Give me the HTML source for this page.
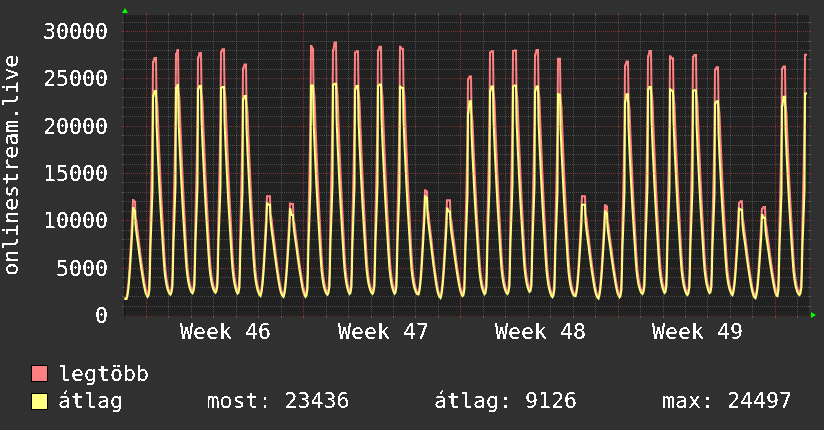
<!DOCTYPE html>
<html><head><meta charset="utf-8"><style>
html,body{margin:0;padding:0;background:#303030;}
svg{display:block;}
text{font-family:"DejaVu Sans Mono","Liberation Mono",monospace;font-size:21.6px;fill:#ffffff;}
</style></head><body>
<svg width="824" height="430" viewBox="0 0 824 430">
<rect x="0" y="0" width="824" height="430" fill="#303030"/>
<rect x="124" y="15" width="685" height="301" fill="#212121"/>
<polyline points="124.0,298.10 124.5,298.10 125.5,298.10 126.5,298.04 127.5,292.11 128.5,282.26 129.5,268.51 130.5,250.86 131.5,231.28 132.5,211.72 133.0,200.00 133.5,200.00 134.5,201.80 135.0,201.80 135.5,217.55 136.5,221.44 137.5,230.39 138.5,238.16 139.5,246.31 140.5,254.64 141.5,262.39 142.5,269.73 143.5,276.48 144.5,282.84 145.5,288.22 146.5,292.23 147.5,294.70 148.5,291.95 149.5,277.50 150.5,220.15 151.5,177.16 152.5,124.69 153.0,62.00 153.5,62.00 154.5,58.00 155.5,58.00 156.0,58.00 156.5,96.02 157.5,107.40 158.5,133.95 159.5,157.63 160.5,180.33 161.5,200.63 162.5,219.49 163.5,238.33 164.5,256.20 165.5,269.80 166.5,278.18 167.5,284.19 168.5,288.30 169.5,291.23 170.5,292.99 171.5,288.76 172.5,274.08 173.5,215.59 174.5,171.72 175.5,118.15 176.0,54.00 176.5,54.00 177.5,50.00 178.0,50.00 178.5,88.91 179.5,100.57 180.5,127.78 181.5,152.06 182.5,175.36 183.5,196.22 184.5,215.60 185.5,234.98 186.5,253.38 187.5,267.40 188.5,276.08 189.5,282.33 190.5,286.63 191.5,289.72 192.5,291.60 193.5,287.50 194.5,273.12 195.5,215.68 196.5,172.61 197.5,119.98 198.0,57.40 198.5,57.40 199.5,53.00 200.5,53.00 201.0,53.00 201.5,91.26 202.5,102.73 203.5,129.50 204.5,153.40 205.5,176.33 206.5,196.88 207.5,215.98 208.5,235.08 209.5,253.22 210.5,267.06 211.5,275.64 212.5,281.83 213.5,286.11 214.5,289.19 215.5,291.10 216.5,287.05 217.5,272.57 218.5,214.36 219.5,170.69 220.5,117.26 221.0,52.00 221.5,52.00 222.5,49.20 223.5,49.20 224.0,49.20 224.5,88.15 225.5,99.85 226.5,127.15 227.5,151.55 228.5,174.99 229.5,196.00 230.5,215.57 231.5,235.16 232.5,253.78 233.5,268.02 234.5,276.89 235.5,283.33 236.5,287.82 237.5,291.08 238.5,289.25 239.5,275.54 240.5,220.52 241.5,179.25 242.5,128.77 243.0,68.20 243.5,68.20 244.5,64.50 245.5,64.50 246.0,64.50 246.5,101.26 247.5,112.30 248.5,138.06 249.5,161.07 250.5,183.17 251.5,202.98 252.5,221.42 253.5,239.87 254.5,257.40 255.5,270.80 256.5,279.14 257.5,285.18 258.5,289.38 259.5,292.42 260.5,294.32 261.5,289.12 262.5,279.28 263.5,265.48 264.5,247.71 265.5,227.95 266.5,208.17 267.0,196.30 267.5,196.30 268.5,196.30 269.5,196.30 270.0,196.30 270.5,214.14 271.5,218.11 272.5,227.25 273.5,235.20 274.5,243.55 275.5,252.11 276.5,260.08 277.5,267.66 278.5,274.65 279.5,281.25 280.5,286.86 281.5,291.07 282.5,293.70 283.5,295.33 284.5,290.42 285.5,281.19 286.5,268.26 287.5,251.60 288.5,233.07 289.5,214.53 290.0,203.40 290.5,203.40 291.5,204.00 292.5,204.00 293.0,204.00 293.5,220.13 294.5,223.85 295.5,232.42 296.5,239.88 297.5,247.71 298.5,255.74 299.5,263.22 300.5,270.33 301.5,276.88 302.5,283.07 303.5,288.33 304.5,292.29 305.5,294.70 306.5,291.62 307.5,276.46 308.5,216.25 309.5,171.12 310.5,116.03 311.0,46.00 311.5,46.00 312.5,48.70 313.0,48.70 313.5,85.96 314.5,97.92 315.5,125.83 316.5,150.72 317.5,174.59 318.5,195.95 319.5,215.78 320.5,235.60 321.5,254.40 322.5,268.71 323.5,277.54 324.5,283.88 325.5,288.22 326.5,291.32 327.5,293.17 328.5,288.88 329.5,273.81 330.5,213.50 331.5,168.27 332.5,112.98 333.0,49.90 333.5,49.90 334.5,42.60 335.5,42.60 336.0,42.60 336.5,82.82 337.5,94.89 338.5,123.05 339.5,148.19 340.5,172.33 341.5,193.96 342.5,214.08 343.5,234.20 344.5,253.32 345.5,267.91 346.5,276.97 347.5,283.51 348.5,288.05 349.5,291.33 350.5,289.22 351.5,274.61 352.5,216.32 353.5,172.61 354.5,119.22 355.0,52.60 355.5,52.60 356.5,51.30 357.5,51.30 358.0,51.30 358.5,90.08 359.5,101.70 360.5,128.82 361.5,153.02 362.5,176.24 363.5,197.03 364.5,216.36 365.5,235.69 366.5,254.03 367.5,268.02 368.5,276.67 369.5,282.91 370.5,287.21 371.5,290.30 372.5,292.18 373.5,288.02 374.5,273.28 375.5,214.21 376.5,169.89 377.5,115.70 378.0,50.50 378.5,50.50 379.5,46.70 380.5,46.70 381.0,46.70 381.5,86.16 382.5,98.00 383.5,125.64 384.5,150.33 385.5,174.04 386.5,195.29 387.5,215.06 388.5,234.85 389.5,253.65 390.5,268.01 391.5,276.94 392.5,283.41 393.5,287.90 394.5,291.16 395.5,288.94 396.5,274.09 397.5,214.75 398.5,170.25 399.5,115.88 400.0,46.70 400.5,46.70 401.5,48.80 402.5,48.80 403.0,48.80 403.5,86.22 404.5,98.06 405.5,125.71 406.5,150.40 407.5,174.08 408.5,195.30 409.5,215.03 410.5,234.75 411.5,253.48 412.5,267.77 413.5,276.63 414.5,283.02 415.5,287.43 416.5,290.61 417.5,292.56 418.5,293.47 419.5,287.44 420.5,277.25 421.5,262.88 422.5,244.30 423.5,223.59 424.5,202.80 425.0,190.30 425.5,190.30 426.5,191.40 427.0,191.40 427.5,209.15 428.5,213.37 429.5,223.07 430.5,231.54 431.5,240.46 432.5,249.61 433.5,258.17 434.5,266.32 435.5,273.87 436.5,281.01 437.5,287.11 438.5,291.74 439.5,294.68 440.5,296.43 441.5,291.21 442.5,281.49 443.5,267.91 444.5,250.47 445.5,231.12 446.5,211.79 447.0,200.20 447.5,200.20 448.5,200.20 449.5,200.20 450.0,200.20 450.5,217.55 451.5,221.39 452.5,230.24 453.5,237.92 454.5,245.98 455.5,254.23 456.5,261.89 457.5,269.16 458.5,275.84 459.5,282.13 460.5,287.46 461.5,291.44 462.5,293.88 463.5,291.52 464.5,278.27 465.5,225.55 466.5,186.03 467.5,137.77 468.0,79.00 468.5,79.00 469.5,76.40 470.5,76.40 471.0,76.40 471.5,111.41 472.5,121.90 473.5,146.37 474.5,168.20 475.5,189.14 476.5,207.88 477.5,225.30 478.5,242.70 479.5,259.21 480.5,271.79 481.5,279.56 482.5,285.15 483.5,288.99 484.5,291.74 485.5,289.22 486.5,274.61 487.5,216.32 488.5,172.62 489.5,119.23 490.0,52.60 490.5,52.60 491.5,51.30 492.5,51.30 493.0,51.30 493.5,90.09 494.5,101.71 495.5,128.84 496.5,153.06 497.5,176.29 498.5,197.10 499.5,216.45 500.5,235.78 501.5,254.15 502.5,268.15 503.5,276.82 504.5,283.06 505.5,287.38 506.5,290.48 507.5,292.37 508.5,288.19 509.5,273.59 510.5,215.36 511.5,171.70 512.5,118.36 513.0,51.00 513.5,51.00 514.5,50.50 515.5,50.50 516.0,50.50 516.5,89.24 517.5,100.86 518.5,127.96 519.5,152.14 520.5,175.35 521.5,196.13 522.5,215.45 523.5,234.76 524.5,253.09 525.5,267.07 526.5,275.73 527.5,281.96 528.5,286.27 529.5,289.36 530.5,287.29 531.5,272.93 532.5,214.87 533.5,171.30 534.5,117.94 535.0,54.70 535.5,54.70 536.5,49.90 537.5,49.90 538.0,49.90 538.5,88.90 539.5,100.63 540.5,128.01 541.5,152.50 542.5,176.05 543.5,197.19 544.5,216.89 545.5,236.62 546.5,255.40 547.5,269.79 548.5,278.80 549.5,285.36 550.5,289.97 551.5,293.35 552.5,295.45 553.5,291.39 554.5,277.10 555.5,220.09 556.5,177.35 557.5,125.13 558.0,58.70 558.5,58.70 559.5,58.70 560.0,58.70 560.5,96.64 561.5,108.01 562.5,134.54 563.5,158.22 564.5,180.94 565.5,201.28 566.5,220.20 567.5,239.11 568.5,257.06 569.5,270.74 570.5,279.22 571.5,285.32 572.5,289.53 573.5,292.56 574.5,294.40 575.5,295.19 576.5,289.36 577.5,279.55 578.5,265.76 579.5,247.95 580.5,228.12 581.5,208.25 582.0,196.30 582.5,196.30 583.5,196.30 584.5,196.30 585.0,196.30 585.5,214.30 586.5,218.32 587.5,227.57 588.5,235.63 589.5,244.11 590.5,252.81 591.5,260.93 592.5,268.66 593.5,275.80 594.5,282.56 595.5,288.31 596.5,292.67 597.5,295.37 598.5,296.97 599.5,292.02 600.5,282.78 601.5,269.86 602.5,253.25 603.5,234.80 604.5,216.36 605.0,205.30 605.5,205.30 606.5,206.40 607.0,206.40 607.5,221.88 608.5,225.56 609.5,234.03 610.5,241.39 611.5,249.11 612.5,257.02 613.5,264.37 614.5,271.35 615.5,277.78 616.5,283.83 617.5,288.96 618.5,292.81 619.5,295.18 620.5,292.33 621.5,278.02 622.5,221.39 623.5,178.95 624.5,127.17 625.0,65.60 625.5,65.60 626.5,61.40 627.5,61.40 628.0,61.40 628.5,98.87 629.5,110.07 630.5,136.22 631.5,159.53 632.5,181.86 633.5,201.83 634.5,220.36 635.5,238.87 636.5,256.42 637.5,269.75 638.5,277.95 639.5,283.82 640.5,287.82 641.5,290.66 642.5,292.40 643.5,288.26 644.5,273.73 645.5,215.63 646.5,172.05 647.5,118.79 648.0,56.20 648.5,56.20 649.5,51.00 650.5,51.00 651.0,51.00 651.5,89.74 652.5,101.36 653.5,128.47 654.5,152.68 655.5,175.92 656.5,196.74 657.5,216.11 658.5,235.48 659.5,253.88 660.5,267.92 661.5,276.64 662.5,282.93 663.5,287.29 664.5,290.44 665.5,288.40 666.5,274.23 667.5,217.38 668.5,174.74 669.5,122.59 670.0,56.20 670.5,56.20 671.5,58.20 672.5,58.20 673.0,58.20 673.5,94.17 674.5,105.57 675.5,132.16 676.5,155.92 677.5,178.74 678.5,199.19 679.5,218.22 680.5,237.26 681.5,255.35 682.5,269.18 683.5,277.78 684.5,284.00 685.5,288.33 686.5,291.46 687.5,293.36 688.5,289.25 689.5,274.88 690.5,217.51 691.5,174.50 692.5,121.95 693.0,56.80 693.5,56.80 694.5,55.10 695.5,55.10 696.0,55.10 696.5,93.27 697.5,104.71 698.5,131.42 699.5,155.25 700.5,178.11 701.5,198.59 702.5,217.63 703.5,236.66 704.5,254.73 705.5,268.51 706.5,277.04 707.5,283.19 708.5,287.43 709.5,290.48 710.5,288.63 711.5,275.11 712.5,220.90 713.5,180.24 714.5,130.51 715.0,69.70 715.5,69.70 716.5,67.20 717.5,67.20 718.0,67.20 718.5,103.41 719.5,114.28 720.5,139.65 721.5,162.30 722.5,184.06 723.5,203.57 724.5,221.72 725.5,239.88 726.5,257.14 727.5,270.33 728.5,278.53 729.5,284.47 730.5,288.59 731.5,291.59 732.5,293.50 733.5,288.74 734.5,279.55 735.5,266.61 736.5,249.88 737.5,231.24 738.5,212.54 739.0,203.00 739.5,203.00 740.5,201.30 741.5,201.30 742.0,201.30 742.5,218.27 743.5,222.07 744.5,230.80 745.5,238.41 746.5,246.43 747.5,254.66 748.5,262.35 749.5,269.67 750.5,276.45 751.5,282.86 752.5,288.33 753.5,292.48 754.5,295.09 755.5,296.62 756.5,291.79 757.5,282.77 758.5,270.14 759.5,253.90 760.5,235.86 761.5,217.82 762.0,208.70 762.5,208.70 763.5,207.00 764.5,207.00 765.0,207.00 765.5,223.24 766.5,226.84 767.5,235.14 768.5,242.36 769.5,249.94 770.5,257.69 771.5,264.91 772.5,271.76 773.5,278.08 774.5,284.03 775.5,289.08 776.5,292.87 777.5,292.50 778.5,278.54 779.5,223.16 780.5,181.65 781.5,130.99 782.0,68.70 782.5,68.70 783.5,66.60 784.5,66.60 785.0,66.60 785.5,103.30 786.5,114.29 787.5,139.92 788.5,162.78 789.5,184.69 790.5,204.29 791.5,222.49 792.5,240.67 793.5,257.92 794.5,271.03 795.5,279.12 796.5,284.92 797.5,288.88 798.5,291.71 799.5,293.42 800.5,289.32 801.5,274.97 802.5,217.51 803.5,174.42 804.5,121.74 805.0,54.70 805.5,54.70 806.5,54.70 807.0,54.70" fill="none" stroke="#ff8080" stroke-width="2" stroke-linejoin="miter"/>
<polyline points="124.0,299.10 124.5,299.10 125.5,299.10 126.5,299.04 127.5,295.35 128.5,288.03 129.5,276.18 130.5,260.71 131.5,244.36 132.5,226.22 133.0,208.10 133.5,208.10 134.5,211.00 135.0,211.00 135.5,224.38 136.5,233.40 137.5,240.61 138.5,247.81 139.5,255.90 140.5,263.08 141.5,270.25 142.5,276.51 143.5,282.77 144.5,288.11 145.5,292.55 146.5,295.19 147.5,296.93 148.5,295.66 149.5,289.32 150.5,245.84 151.5,218.91 152.5,189.96 153.0,96.00 153.5,96.00 154.5,91.00 155.5,91.00 156.0,91.00 156.5,123.90 157.5,148.54 158.5,169.03 159.5,189.50 160.5,207.89 161.5,224.21 162.5,240.50 163.5,256.77 164.5,270.98 165.5,279.03 166.5,285.03 167.5,288.98 168.5,291.91 169.5,293.81 170.5,294.70 171.5,292.54 172.5,286.18 173.5,242.11 174.5,214.82 175.5,185.45 176.0,88.10 176.5,88.10 177.5,84.90 178.0,84.90 178.5,118.39 179.5,143.49 180.5,164.39 181.5,185.27 182.5,204.06 183.5,220.74 184.5,237.41 185.5,254.08 186.5,268.64 187.5,276.94 188.5,283.14 189.5,287.25 190.5,290.32 191.5,292.34 192.5,293.32 193.5,291.21 194.5,284.97 195.5,241.43 196.5,214.48 197.5,185.45 198.0,89.00 198.5,89.00 199.5,86.00 200.5,86.00 201.0,86.00 201.5,119.14 202.5,143.98 203.5,164.68 204.5,185.38 205.5,204.00 206.5,220.55 207.5,237.09 208.5,253.63 209.5,268.10 210.5,276.36 211.5,282.54 212.5,286.66 213.5,289.74 214.5,291.78 215.5,292.81 216.5,290.84 217.5,284.75 218.5,241.54 219.5,214.79 220.5,185.95 221.0,88.00 221.5,88.00 222.5,86.90 223.5,86.90 224.0,86.90 224.5,119.97 225.5,144.81 226.5,165.52 227.5,186.25 228.5,204.93 229.5,221.55 230.5,238.19 231.5,254.84 232.5,269.44 233.5,277.82 234.5,284.13 235.5,288.36 236.5,291.57 237.5,293.73 238.5,292.85 239.5,286.94 240.5,245.23 241.5,219.42 242.5,191.60 243.0,99.60 243.5,99.60 244.5,96.10 245.5,96.10 246.0,96.10 246.5,127.97 247.5,151.88 248.5,171.82 249.5,191.78 250.5,209.75 251.5,225.73 252.5,241.72 253.5,257.73 254.5,271.74 255.5,279.77 256.5,285.81 257.5,289.86 258.5,292.91 259.5,294.96 260.5,296.01 261.5,292.34 262.5,284.95 263.5,272.92 264.5,257.16 265.5,240.46 266.5,221.89 267.0,203.30 267.5,203.30 268.5,204.70 269.5,204.70 270.0,204.70 270.5,220.06 271.5,229.38 272.5,236.85 273.5,244.32 274.5,252.73 275.5,260.22 276.5,267.71 277.5,274.28 278.5,280.85 279.5,286.49 280.5,291.20 281.5,294.04 282.5,295.96 283.5,296.93 284.5,293.46 285.5,286.49 286.5,275.11 287.5,260.22 288.5,244.43 289.5,226.87 290.0,209.30 290.5,209.30 291.5,214.90 292.5,214.90 293.0,214.90 293.5,225.15 294.5,233.96 295.5,241.02 296.5,248.09 297.5,256.04 298.5,263.12 299.5,270.21 300.5,276.42 301.5,282.63 302.5,287.97 303.5,292.43 304.5,295.12 305.5,296.87 306.5,295.51 307.5,289.02 308.5,244.38 309.5,216.74 310.5,187.02 311.0,85.40 311.5,85.40 312.5,85.40 313.0,85.40 313.5,119.21 314.5,144.54 315.5,165.61 316.5,186.65 317.5,205.56 318.5,222.34 319.5,239.10 320.5,255.84 321.5,270.46 322.5,278.75 323.5,284.93 324.5,289.01 325.5,292.03 326.5,294.00 327.5,294.92 328.5,292.80 329.5,286.47 330.5,242.14 331.5,214.70 332.5,185.15 333.0,85.00 333.5,85.00 334.5,83.80 335.5,83.80 336.0,83.80 336.5,117.59 337.5,142.93 338.5,164.05 339.5,185.18 340.5,204.19 341.5,221.10 342.5,238.00 343.5,254.91 344.5,269.70 345.5,278.16 346.5,284.50 347.5,288.74 348.5,291.92 349.5,294.04 350.5,292.99 351.5,286.66 352.5,242.73 353.5,215.53 354.5,186.26 355.0,89.60 355.5,89.60 356.5,86.00 357.5,86.00 358.0,86.00 358.5,119.38 359.5,144.41 360.5,165.25 361.5,186.08 362.5,204.81 363.5,221.45 364.5,238.08 365.5,254.70 366.5,269.24 367.5,277.52 368.5,283.71 369.5,287.82 370.5,290.89 371.5,292.92 372.5,293.90 373.5,291.85 374.5,285.60 375.5,241.62 376.5,214.40 377.5,185.07 378.0,86.00 378.5,86.00 379.5,84.40 380.5,84.40 381.0,84.40 381.5,117.98 382.5,143.18 383.5,164.20 384.5,185.22 385.5,204.14 386.5,220.98 387.5,237.82 388.5,254.67 389.5,269.42 390.5,277.87 391.5,284.23 392.5,288.48 393.5,291.68 394.5,293.82 395.5,292.80 396.5,286.53 397.5,242.75 398.5,215.65 399.5,186.47 400.0,86.50 400.5,86.50 401.5,88.00 402.5,88.00 403.0,88.00 403.5,119.81 404.5,144.78 405.5,165.59 406.5,186.38 407.5,205.10 408.5,221.73 409.5,238.35 410.5,254.97 411.5,269.50 412.5,277.80 413.5,284.01 414.5,288.14 415.5,291.24 416.5,293.29 417.5,294.30 418.5,294.47 419.5,290.71 420.5,282.99 421.5,270.31 422.5,253.63 423.5,235.91 424.5,216.14 425.0,196.30 425.5,196.30 426.5,198.00 427.0,198.00 427.5,214.25 428.5,224.26 429.5,232.31 430.5,240.39 431.5,249.50 432.5,257.63 433.5,265.79 434.5,272.97 435.5,280.17 436.5,286.38 437.5,291.60 438.5,294.81 439.5,297.01 440.5,298.07 441.5,294.45 442.5,287.25 443.5,275.59 444.5,260.38 445.5,244.29 446.5,226.44 447.0,208.60 447.5,208.60 448.5,211.40 449.5,211.40 450.0,211.40 450.5,224.62 451.5,233.50 452.5,240.60 453.5,247.69 454.5,255.66 455.5,262.73 456.5,269.80 457.5,275.97 458.5,282.13 459.5,287.40 460.5,291.78 461.5,294.39 462.5,296.11 463.5,294.95 464.5,289.00 465.5,247.85 466.5,222.38 467.5,194.98 468.0,112.40 468.5,112.40 469.5,101.20 470.5,101.20 471.0,101.20 471.5,132.40 472.5,155.78 473.5,175.25 474.5,194.69 475.5,212.17 476.5,227.69 477.5,243.20 478.5,258.69 479.5,272.23 480.5,279.93 481.5,285.68 482.5,289.48 483.5,292.30 484.5,294.16 485.5,292.99 486.5,286.69 487.5,242.86 488.5,215.73 489.5,186.53 490.0,90.70 490.5,90.70 491.5,86.50 492.5,86.50 493.0,86.50 493.5,119.81 494.5,144.79 495.5,165.59 496.5,186.38 497.5,205.08 498.5,221.70 499.5,238.30 500.5,254.90 501.5,269.42 502.5,277.69 503.5,283.88 504.5,287.99 505.5,291.07 506.5,293.10 507.5,294.09 508.5,291.96 509.5,285.65 510.5,241.81 511.5,214.67 512.5,185.45 513.0,86.50 513.5,86.50 514.5,85.40 515.5,85.40 516.0,85.40 516.5,118.72 517.5,143.70 518.5,164.50 519.5,185.29 520.5,203.99 521.5,220.60 522.5,237.21 523.5,253.81 524.5,268.32 525.5,276.58 526.5,282.77 527.5,286.88 528.5,289.95 529.5,291.98 530.5,291.07 531.5,285.05 532.5,241.76 533.5,214.96 534.5,186.04 535.0,90.70 535.5,90.70 536.5,86.50 537.5,86.50 538.0,86.50 538.5,119.80 539.5,144.83 540.5,165.73 541.5,186.67 542.5,205.56 543.5,222.39 544.5,239.25 545.5,256.15 546.5,270.97 547.5,279.53 548.5,286.00 549.5,290.38 550.5,293.72 551.5,296.01 552.5,297.19 553.5,295.11 554.5,288.96 555.5,246.26 556.5,219.82 557.5,191.36 558.0,93.90 558.5,93.90 559.5,95.00 560.0,95.00 560.5,126.36 561.5,150.70 562.5,170.96 563.5,191.22 564.5,209.44 565.5,225.62 566.5,241.80 567.5,257.97 568.5,272.10 569.5,280.16 570.5,286.19 571.5,290.19 572.5,293.17 573.5,295.15 574.5,296.11 575.5,296.19 576.5,292.64 577.5,285.41 578.5,273.57 579.5,258.02 580.5,241.52 581.5,223.13 582.0,204.70 582.5,204.70 583.5,204.70 584.5,204.70 585.0,204.70 585.5,221.37 586.5,230.66 587.5,238.12 588.5,245.59 589.5,254.02 590.5,261.53 591.5,269.06 592.5,275.67 593.5,282.30 594.5,288.01 595.5,292.79 596.5,295.71 597.5,297.66 598.5,298.58 599.5,295.07 600.5,288.07 601.5,276.72 602.5,261.88 603.5,246.17 604.5,228.73 605.0,211.30 605.5,211.30 606.5,213.70 607.0,213.70 607.5,226.98 608.5,235.69 609.5,242.65 610.5,249.61 611.5,257.43 612.5,264.39 613.5,271.34 614.5,277.41 615.5,283.49 616.5,288.69 617.5,293.02 618.5,295.61 619.5,297.33 620.5,296.00 621.5,289.71 622.5,246.81 623.5,220.24 624.5,191.69 625.0,101.50 625.5,101.50 626.5,94.20 627.5,94.20 628.0,94.20 628.5,126.58 629.5,150.82 630.5,170.97 631.5,191.08 632.5,209.14 633.5,225.15 634.5,241.14 635.5,257.09 636.5,271.01 637.5,278.88 638.5,284.73 639.5,288.56 640.5,291.39 641.5,293.21 642.5,294.10 643.5,292.03 644.5,285.81 645.5,242.30 646.5,215.36 647.5,186.36 648.0,89.60 648.5,89.60 649.5,86.90 650.5,86.90 651.0,86.90 651.5,120.05 652.5,144.92 653.5,165.64 654.5,186.36 655.5,205.00 656.5,221.58 657.5,238.16 658.5,254.73 659.5,269.24 660.5,277.52 661.5,283.74 662.5,287.88 663.5,290.99 664.5,293.06 665.5,292.09 666.5,285.99 667.5,242.97 668.5,216.35 669.5,187.66 670.0,89.20 670.5,89.20 671.5,90.70 672.5,90.70 673.0,90.70 673.5,122.05 674.5,146.70 675.5,167.25 676.5,187.81 677.5,206.32 678.5,222.79 679.5,239.26 680.5,255.74 681.5,270.18 682.5,278.44 683.5,284.66 684.5,288.82 685.5,291.95 686.5,294.05 687.5,295.08 688.5,292.99 689.5,286.80 690.5,243.78 691.5,217.15 692.5,188.49 693.0,90.70 693.5,90.70 694.5,90.30 695.5,90.30 696.0,90.30 696.5,123.00 697.5,147.51 698.5,167.93 699.5,188.34 700.5,206.69 701.5,223.00 702.5,239.30 703.5,255.59 704.5,269.84 705.5,277.96 706.5,284.04 707.5,288.07 708.5,291.09 709.5,293.08 710.5,292.22 711.5,286.48 712.5,246.00 713.5,220.95 714.5,193.95 715.0,103.40 715.5,103.40 716.5,101.30 717.5,101.30 718.0,101.30 718.5,132.21 719.5,155.41 720.5,174.75 721.5,194.10 722.5,211.53 723.5,227.03 724.5,242.53 725.5,258.05 726.5,271.63 727.5,279.41 728.5,285.27 729.5,289.18 730.5,292.13 731.5,294.11 732.5,295.18 733.5,291.85 734.5,285.03 735.5,273.85 736.5,259.14 737.5,243.51 738.5,226.08 739.0,208.60 739.5,208.60 740.5,209.70 741.5,209.70 742.0,209.70 742.5,224.43 743.5,233.27 744.5,240.37 745.5,247.48 746.5,255.51 747.5,262.68 748.5,269.86 749.5,276.18 750.5,282.52 751.5,287.99 752.5,292.58 753.5,295.39 754.5,297.30 755.5,298.20 756.5,294.87 757.5,288.22 758.5,277.40 759.5,263.26 760.5,248.28 761.5,231.64 762.0,215.00 762.5,215.00 763.5,217.80 764.5,217.80 765.0,217.80 765.5,229.98 766.5,238.30 767.5,244.95 768.5,251.61 769.5,259.10 770.5,265.75 771.5,272.41 772.5,278.23 773.5,284.06 774.5,289.05 775.5,293.21 776.5,295.70 777.5,296.09 778.5,289.92 779.5,247.55 780.5,221.32 781.5,193.11 782.0,105.80 782.5,105.80 783.5,96.70 784.5,96.70 785.0,96.70 785.5,128.75 786.5,152.75 787.5,172.71 788.5,192.65 789.5,210.56 790.5,226.45 791.5,242.32 792.5,258.16 793.5,272.00 794.5,279.84 795.5,285.68 796.5,289.52 797.5,292.37 798.5,294.22 799.5,295.10 800.5,293.10 801.5,287.06 802.5,244.75 803.5,218.55 804.5,190.34 805.0,93.60 805.5,93.60 806.5,93.60 807.0,93.60" fill="none" stroke="#ffff80" stroke-width="2" stroke-linejoin="miter"/>
<g shape-rendering="crispEdges">
<line x1="124" y1="306.5" x2="809" y2="306.5" stroke="rgba(255,255,255,0.2)" stroke-width="1" stroke-dasharray="1 1"/><line x1="122" y1="306.5" x2="124" y2="306.5" stroke="rgba(255,255,255,0.2)" stroke-width="1"/><line x1="809" y1="306.5" x2="811" y2="306.5" stroke="rgba(255,255,255,0.2)" stroke-width="1"/><line x1="124" y1="296.5" x2="809" y2="296.5" stroke="rgba(255,255,255,0.2)" stroke-width="1" stroke-dasharray="1 1"/><line x1="122" y1="296.5" x2="124" y2="296.5" stroke="rgba(255,255,255,0.2)" stroke-width="1"/><line x1="809" y1="296.5" x2="811" y2="296.5" stroke="rgba(255,255,255,0.2)" stroke-width="1"/><line x1="124" y1="287.5" x2="809" y2="287.5" stroke="rgba(255,255,255,0.2)" stroke-width="1" stroke-dasharray="1 1"/><line x1="122" y1="287.5" x2="124" y2="287.5" stroke="rgba(255,255,255,0.2)" stroke-width="1"/><line x1="809" y1="287.5" x2="811" y2="287.5" stroke="rgba(255,255,255,0.2)" stroke-width="1"/><line x1="124" y1="277.5" x2="809" y2="277.5" stroke="rgba(255,255,255,0.2)" stroke-width="1" stroke-dasharray="1 1"/><line x1="122" y1="277.5" x2="124" y2="277.5" stroke="rgba(255,255,255,0.2)" stroke-width="1"/><line x1="809" y1="277.5" x2="811" y2="277.5" stroke="rgba(255,255,255,0.2)" stroke-width="1"/><line x1="124" y1="258.5" x2="809" y2="258.5" stroke="rgba(255,255,255,0.2)" stroke-width="1" stroke-dasharray="1 1"/><line x1="122" y1="258.5" x2="124" y2="258.5" stroke="rgba(255,255,255,0.2)" stroke-width="1"/><line x1="809" y1="258.5" x2="811" y2="258.5" stroke="rgba(255,255,255,0.2)" stroke-width="1"/><line x1="124" y1="249.5" x2="809" y2="249.5" stroke="rgba(255,255,255,0.2)" stroke-width="1" stroke-dasharray="1 1"/><line x1="122" y1="249.5" x2="124" y2="249.5" stroke="rgba(255,255,255,0.2)" stroke-width="1"/><line x1="809" y1="249.5" x2="811" y2="249.5" stroke="rgba(255,255,255,0.2)" stroke-width="1"/><line x1="124" y1="239.5" x2="809" y2="239.5" stroke="rgba(255,255,255,0.2)" stroke-width="1" stroke-dasharray="1 1"/><line x1="122" y1="239.5" x2="124" y2="239.5" stroke="rgba(255,255,255,0.2)" stroke-width="1"/><line x1="809" y1="239.5" x2="811" y2="239.5" stroke="rgba(255,255,255,0.2)" stroke-width="1"/><line x1="124" y1="230.5" x2="809" y2="230.5" stroke="rgba(255,255,255,0.2)" stroke-width="1" stroke-dasharray="1 1"/><line x1="122" y1="230.5" x2="124" y2="230.5" stroke="rgba(255,255,255,0.2)" stroke-width="1"/><line x1="809" y1="230.5" x2="811" y2="230.5" stroke="rgba(255,255,255,0.2)" stroke-width="1"/><line x1="124" y1="211.5" x2="809" y2="211.5" stroke="rgba(255,255,255,0.2)" stroke-width="1" stroke-dasharray="1 1"/><line x1="122" y1="211.5" x2="124" y2="211.5" stroke="rgba(255,255,255,0.2)" stroke-width="1"/><line x1="809" y1="211.5" x2="811" y2="211.5" stroke="rgba(255,255,255,0.2)" stroke-width="1"/><line x1="124" y1="201.5" x2="809" y2="201.5" stroke="rgba(255,255,255,0.2)" stroke-width="1" stroke-dasharray="1 1"/><line x1="122" y1="201.5" x2="124" y2="201.5" stroke="rgba(255,255,255,0.2)" stroke-width="1"/><line x1="809" y1="201.5" x2="811" y2="201.5" stroke="rgba(255,255,255,0.2)" stroke-width="1"/><line x1="124" y1="192.5" x2="809" y2="192.5" stroke="rgba(255,255,255,0.2)" stroke-width="1" stroke-dasharray="1 1"/><line x1="122" y1="192.5" x2="124" y2="192.5" stroke="rgba(255,255,255,0.2)" stroke-width="1"/><line x1="809" y1="192.5" x2="811" y2="192.5" stroke="rgba(255,255,255,0.2)" stroke-width="1"/><line x1="124" y1="182.5" x2="809" y2="182.5" stroke="rgba(255,255,255,0.2)" stroke-width="1" stroke-dasharray="1 1"/><line x1="122" y1="182.5" x2="124" y2="182.5" stroke="rgba(255,255,255,0.2)" stroke-width="1"/><line x1="809" y1="182.5" x2="811" y2="182.5" stroke="rgba(255,255,255,0.2)" stroke-width="1"/><line x1="124" y1="164.5" x2="809" y2="164.5" stroke="rgba(255,255,255,0.2)" stroke-width="1" stroke-dasharray="1 1"/><line x1="122" y1="164.5" x2="124" y2="164.5" stroke="rgba(255,255,255,0.2)" stroke-width="1"/><line x1="809" y1="164.5" x2="811" y2="164.5" stroke="rgba(255,255,255,0.2)" stroke-width="1"/><line x1="124" y1="154.5" x2="809" y2="154.5" stroke="rgba(255,255,255,0.2)" stroke-width="1" stroke-dasharray="1 1"/><line x1="122" y1="154.5" x2="124" y2="154.5" stroke="rgba(255,255,255,0.2)" stroke-width="1"/><line x1="809" y1="154.5" x2="811" y2="154.5" stroke="rgba(255,255,255,0.2)" stroke-width="1"/><line x1="124" y1="145.5" x2="809" y2="145.5" stroke="rgba(255,255,255,0.2)" stroke-width="1" stroke-dasharray="1 1"/><line x1="122" y1="145.5" x2="124" y2="145.5" stroke="rgba(255,255,255,0.2)" stroke-width="1"/><line x1="809" y1="145.5" x2="811" y2="145.5" stroke="rgba(255,255,255,0.2)" stroke-width="1"/><line x1="124" y1="135.5" x2="809" y2="135.5" stroke="rgba(255,255,255,0.2)" stroke-width="1" stroke-dasharray="1 1"/><line x1="122" y1="135.5" x2="124" y2="135.5" stroke="rgba(255,255,255,0.2)" stroke-width="1"/><line x1="809" y1="135.5" x2="811" y2="135.5" stroke="rgba(255,255,255,0.2)" stroke-width="1"/><line x1="124" y1="116.5" x2="809" y2="116.5" stroke="rgba(255,255,255,0.2)" stroke-width="1" stroke-dasharray="1 1"/><line x1="122" y1="116.5" x2="124" y2="116.5" stroke="rgba(255,255,255,0.2)" stroke-width="1"/><line x1="809" y1="116.5" x2="811" y2="116.5" stroke="rgba(255,255,255,0.2)" stroke-width="1"/><line x1="124" y1="107.5" x2="809" y2="107.5" stroke="rgba(255,255,255,0.2)" stroke-width="1" stroke-dasharray="1 1"/><line x1="122" y1="107.5" x2="124" y2="107.5" stroke="rgba(255,255,255,0.2)" stroke-width="1"/><line x1="809" y1="107.5" x2="811" y2="107.5" stroke="rgba(255,255,255,0.2)" stroke-width="1"/><line x1="124" y1="97.5" x2="809" y2="97.5" stroke="rgba(255,255,255,0.2)" stroke-width="1" stroke-dasharray="1 1"/><line x1="122" y1="97.5" x2="124" y2="97.5" stroke="rgba(255,255,255,0.2)" stroke-width="1"/><line x1="809" y1="97.5" x2="811" y2="97.5" stroke="rgba(255,255,255,0.2)" stroke-width="1"/><line x1="124" y1="88.5" x2="809" y2="88.5" stroke="rgba(255,255,255,0.2)" stroke-width="1" stroke-dasharray="1 1"/><line x1="122" y1="88.5" x2="124" y2="88.5" stroke="rgba(255,255,255,0.2)" stroke-width="1"/><line x1="809" y1="88.5" x2="811" y2="88.5" stroke="rgba(255,255,255,0.2)" stroke-width="1"/><line x1="124" y1="69.5" x2="809" y2="69.5" stroke="rgba(255,255,255,0.2)" stroke-width="1" stroke-dasharray="1 1"/><line x1="122" y1="69.5" x2="124" y2="69.5" stroke="rgba(255,255,255,0.2)" stroke-width="1"/><line x1="809" y1="69.5" x2="811" y2="69.5" stroke="rgba(255,255,255,0.2)" stroke-width="1"/><line x1="124" y1="59.5" x2="809" y2="59.5" stroke="rgba(255,255,255,0.2)" stroke-width="1" stroke-dasharray="1 1"/><line x1="122" y1="59.5" x2="124" y2="59.5" stroke="rgba(255,255,255,0.2)" stroke-width="1"/><line x1="809" y1="59.5" x2="811" y2="59.5" stroke="rgba(255,255,255,0.2)" stroke-width="1"/><line x1="124" y1="50.5" x2="809" y2="50.5" stroke="rgba(255,255,255,0.2)" stroke-width="1" stroke-dasharray="1 1"/><line x1="122" y1="50.5" x2="124" y2="50.5" stroke="rgba(255,255,255,0.2)" stroke-width="1"/><line x1="809" y1="50.5" x2="811" y2="50.5" stroke="rgba(255,255,255,0.2)" stroke-width="1"/><line x1="124" y1="41.5" x2="809" y2="41.5" stroke="rgba(255,255,255,0.2)" stroke-width="1" stroke-dasharray="1 1"/><line x1="122" y1="41.5" x2="124" y2="41.5" stroke="rgba(255,255,255,0.2)" stroke-width="1"/><line x1="809" y1="41.5" x2="811" y2="41.5" stroke="rgba(255,255,255,0.2)" stroke-width="1"/><line x1="124" y1="22.5" x2="809" y2="22.5" stroke="rgba(255,255,255,0.2)" stroke-width="1" stroke-dasharray="1 1"/><line x1="122" y1="22.5" x2="124" y2="22.5" stroke="rgba(255,255,255,0.2)" stroke-width="1"/><line x1="809" y1="22.5" x2="811" y2="22.5" stroke="rgba(255,255,255,0.2)" stroke-width="1"/><line x1="125" y1="315.5" x2="809" y2="315.5" stroke="rgba(255,80,80,0.42)" stroke-width="1" stroke-dasharray="1 1"/><line x1="122" y1="315.5" x2="124" y2="315.5" stroke="rgba(255,80,80,0.42)" stroke-width="1"/><line x1="809" y1="315.5" x2="811" y2="315.5" stroke="rgba(255,80,80,0.42)" stroke-width="1"/><line x1="125" y1="268.5" x2="809" y2="268.5" stroke="rgba(255,80,80,0.42)" stroke-width="1" stroke-dasharray="1 1"/><line x1="122" y1="268.5" x2="124" y2="268.5" stroke="rgba(255,80,80,0.42)" stroke-width="1"/><line x1="809" y1="268.5" x2="811" y2="268.5" stroke="rgba(255,80,80,0.42)" stroke-width="1"/><line x1="125" y1="220.5" x2="809" y2="220.5" stroke="rgba(255,80,80,0.42)" stroke-width="1" stroke-dasharray="1 1"/><line x1="122" y1="220.5" x2="124" y2="220.5" stroke="rgba(255,80,80,0.42)" stroke-width="1"/><line x1="809" y1="220.5" x2="811" y2="220.5" stroke="rgba(255,80,80,0.42)" stroke-width="1"/><line x1="125" y1="173.5" x2="809" y2="173.5" stroke="rgba(255,80,80,0.42)" stroke-width="1" stroke-dasharray="1 1"/><line x1="122" y1="173.5" x2="124" y2="173.5" stroke="rgba(255,80,80,0.42)" stroke-width="1"/><line x1="809" y1="173.5" x2="811" y2="173.5" stroke="rgba(255,80,80,0.42)" stroke-width="1"/><line x1="125" y1="126.5" x2="809" y2="126.5" stroke="rgba(255,80,80,0.42)" stroke-width="1" stroke-dasharray="1 1"/><line x1="122" y1="126.5" x2="124" y2="126.5" stroke="rgba(255,80,80,0.42)" stroke-width="1"/><line x1="809" y1="126.5" x2="811" y2="126.5" stroke="rgba(255,80,80,0.42)" stroke-width="1"/><line x1="125" y1="78.5" x2="809" y2="78.5" stroke="rgba(255,80,80,0.42)" stroke-width="1" stroke-dasharray="1 1"/><line x1="122" y1="78.5" x2="124" y2="78.5" stroke="rgba(255,80,80,0.42)" stroke-width="1"/><line x1="809" y1="78.5" x2="811" y2="78.5" stroke="rgba(255,80,80,0.42)" stroke-width="1"/><line x1="125" y1="31.5" x2="809" y2="31.5" stroke="rgba(255,80,80,0.42)" stroke-width="1" stroke-dasharray="1 1"/><line x1="122" y1="31.5" x2="124" y2="31.5" stroke="rgba(255,80,80,0.42)" stroke-width="1"/><line x1="809" y1="31.5" x2="811" y2="31.5" stroke="rgba(255,80,80,0.42)" stroke-width="1"/><line x1="146.5" y1="15" x2="146.5" y2="316" stroke="rgba(255,80,80,0.42)" stroke-width="1" stroke-dasharray="1 1"/><line x1="146.5" y1="13" x2="146.5" y2="15" stroke="rgba(255,80,80,0.42)" stroke-width="1"/><line x1="146.5" y1="316" x2="146.5" y2="318" stroke="rgba(255,80,80,0.42)" stroke-width="1"/><line x1="168.5" y1="15" x2="168.5" y2="316" stroke="rgba(255,255,255,0.2)" stroke-width="1" stroke-dasharray="1 1"/><line x1="168.5" y1="13" x2="168.5" y2="15" stroke="rgba(255,255,255,0.2)" stroke-width="1"/><line x1="168.5" y1="316" x2="168.5" y2="318" stroke="rgba(255,255,255,0.2)" stroke-width="1"/><line x1="191.5" y1="15" x2="191.5" y2="316" stroke="rgba(255,255,255,0.2)" stroke-width="1" stroke-dasharray="1 1"/><line x1="191.5" y1="13" x2="191.5" y2="15" stroke="rgba(255,255,255,0.2)" stroke-width="1"/><line x1="191.5" y1="316" x2="191.5" y2="318" stroke="rgba(255,255,255,0.2)" stroke-width="1"/><line x1="213.5" y1="15" x2="213.5" y2="316" stroke="rgba(255,255,255,0.2)" stroke-width="1" stroke-dasharray="1 1"/><line x1="213.5" y1="13" x2="213.5" y2="15" stroke="rgba(255,255,255,0.2)" stroke-width="1"/><line x1="213.5" y1="316" x2="213.5" y2="318" stroke="rgba(255,255,255,0.2)" stroke-width="1"/><line x1="236.5" y1="15" x2="236.5" y2="316" stroke="rgba(255,255,255,0.2)" stroke-width="1" stroke-dasharray="1 1"/><line x1="236.5" y1="13" x2="236.5" y2="15" stroke="rgba(255,255,255,0.2)" stroke-width="1"/><line x1="236.5" y1="316" x2="236.5" y2="318" stroke="rgba(255,255,255,0.2)" stroke-width="1"/><line x1="258.5" y1="15" x2="258.5" y2="316" stroke="rgba(255,255,255,0.2)" stroke-width="1" stroke-dasharray="1 1"/><line x1="258.5" y1="13" x2="258.5" y2="15" stroke="rgba(255,255,255,0.2)" stroke-width="1"/><line x1="258.5" y1="316" x2="258.5" y2="318" stroke="rgba(255,255,255,0.2)" stroke-width="1"/><line x1="281.5" y1="15" x2="281.5" y2="316" stroke="rgba(255,255,255,0.2)" stroke-width="1" stroke-dasharray="1 1"/><line x1="281.5" y1="13" x2="281.5" y2="15" stroke="rgba(255,255,255,0.2)" stroke-width="1"/><line x1="281.5" y1="316" x2="281.5" y2="318" stroke="rgba(255,255,255,0.2)" stroke-width="1"/><line x1="303.5" y1="15" x2="303.5" y2="316" stroke="rgba(255,80,80,0.42)" stroke-width="1" stroke-dasharray="1 1"/><line x1="303.5" y1="13" x2="303.5" y2="15" stroke="rgba(255,80,80,0.42)" stroke-width="1"/><line x1="303.5" y1="316" x2="303.5" y2="318" stroke="rgba(255,80,80,0.42)" stroke-width="1"/><line x1="326.5" y1="15" x2="326.5" y2="316" stroke="rgba(255,255,255,0.2)" stroke-width="1" stroke-dasharray="1 1"/><line x1="326.5" y1="13" x2="326.5" y2="15" stroke="rgba(255,255,255,0.2)" stroke-width="1"/><line x1="326.5" y1="316" x2="326.5" y2="318" stroke="rgba(255,255,255,0.2)" stroke-width="1"/><line x1="348.5" y1="15" x2="348.5" y2="316" stroke="rgba(255,255,255,0.2)" stroke-width="1" stroke-dasharray="1 1"/><line x1="348.5" y1="13" x2="348.5" y2="15" stroke="rgba(255,255,255,0.2)" stroke-width="1"/><line x1="348.5" y1="316" x2="348.5" y2="318" stroke="rgba(255,255,255,0.2)" stroke-width="1"/><line x1="371.5" y1="15" x2="371.5" y2="316" stroke="rgba(255,255,255,0.2)" stroke-width="1" stroke-dasharray="1 1"/><line x1="371.5" y1="13" x2="371.5" y2="15" stroke="rgba(255,255,255,0.2)" stroke-width="1"/><line x1="371.5" y1="316" x2="371.5" y2="318" stroke="rgba(255,255,255,0.2)" stroke-width="1"/><line x1="393.5" y1="15" x2="393.5" y2="316" stroke="rgba(255,255,255,0.2)" stroke-width="1" stroke-dasharray="1 1"/><line x1="393.5" y1="13" x2="393.5" y2="15" stroke="rgba(255,255,255,0.2)" stroke-width="1"/><line x1="393.5" y1="316" x2="393.5" y2="318" stroke="rgba(255,255,255,0.2)" stroke-width="1"/><line x1="415.5" y1="15" x2="415.5" y2="316" stroke="rgba(255,255,255,0.2)" stroke-width="1" stroke-dasharray="1 1"/><line x1="415.5" y1="13" x2="415.5" y2="15" stroke="rgba(255,255,255,0.2)" stroke-width="1"/><line x1="415.5" y1="316" x2="415.5" y2="318" stroke="rgba(255,255,255,0.2)" stroke-width="1"/><line x1="438.5" y1="15" x2="438.5" y2="316" stroke="rgba(255,255,255,0.2)" stroke-width="1" stroke-dasharray="1 1"/><line x1="438.5" y1="13" x2="438.5" y2="15" stroke="rgba(255,255,255,0.2)" stroke-width="1"/><line x1="438.5" y1="316" x2="438.5" y2="318" stroke="rgba(255,255,255,0.2)" stroke-width="1"/><line x1="460.5" y1="15" x2="460.5" y2="316" stroke="rgba(255,80,80,0.42)" stroke-width="1" stroke-dasharray="1 1"/><line x1="460.5" y1="13" x2="460.5" y2="15" stroke="rgba(255,80,80,0.42)" stroke-width="1"/><line x1="460.5" y1="316" x2="460.5" y2="318" stroke="rgba(255,80,80,0.42)" stroke-width="1"/><line x1="483.5" y1="15" x2="483.5" y2="316" stroke="rgba(255,255,255,0.2)" stroke-width="1" stroke-dasharray="1 1"/><line x1="483.5" y1="13" x2="483.5" y2="15" stroke="rgba(255,255,255,0.2)" stroke-width="1"/><line x1="483.5" y1="316" x2="483.5" y2="318" stroke="rgba(255,255,255,0.2)" stroke-width="1"/><line x1="505.5" y1="15" x2="505.5" y2="316" stroke="rgba(255,255,255,0.2)" stroke-width="1" stroke-dasharray="1 1"/><line x1="505.5" y1="13" x2="505.5" y2="15" stroke="rgba(255,255,255,0.2)" stroke-width="1"/><line x1="505.5" y1="316" x2="505.5" y2="318" stroke="rgba(255,255,255,0.2)" stroke-width="1"/><line x1="528.5" y1="15" x2="528.5" y2="316" stroke="rgba(255,255,255,0.2)" stroke-width="1" stroke-dasharray="1 1"/><line x1="528.5" y1="13" x2="528.5" y2="15" stroke="rgba(255,255,255,0.2)" stroke-width="1"/><line x1="528.5" y1="316" x2="528.5" y2="318" stroke="rgba(255,255,255,0.2)" stroke-width="1"/><line x1="550.5" y1="15" x2="550.5" y2="316" stroke="rgba(255,255,255,0.2)" stroke-width="1" stroke-dasharray="1 1"/><line x1="550.5" y1="13" x2="550.5" y2="15" stroke="rgba(255,255,255,0.2)" stroke-width="1"/><line x1="550.5" y1="316" x2="550.5" y2="318" stroke="rgba(255,255,255,0.2)" stroke-width="1"/><line x1="573.5" y1="15" x2="573.5" y2="316" stroke="rgba(255,255,255,0.2)" stroke-width="1" stroke-dasharray="1 1"/><line x1="573.5" y1="13" x2="573.5" y2="15" stroke="rgba(255,255,255,0.2)" stroke-width="1"/><line x1="573.5" y1="316" x2="573.5" y2="318" stroke="rgba(255,255,255,0.2)" stroke-width="1"/><line x1="595.5" y1="15" x2="595.5" y2="316" stroke="rgba(255,255,255,0.2)" stroke-width="1" stroke-dasharray="1 1"/><line x1="595.5" y1="13" x2="595.5" y2="15" stroke="rgba(255,255,255,0.2)" stroke-width="1"/><line x1="595.5" y1="316" x2="595.5" y2="318" stroke="rgba(255,255,255,0.2)" stroke-width="1"/><line x1="618.5" y1="15" x2="618.5" y2="316" stroke="rgba(255,80,80,0.42)" stroke-width="1" stroke-dasharray="1 1"/><line x1="618.5" y1="13" x2="618.5" y2="15" stroke="rgba(255,80,80,0.42)" stroke-width="1"/><line x1="618.5" y1="316" x2="618.5" y2="318" stroke="rgba(255,80,80,0.42)" stroke-width="1"/><line x1="640.5" y1="15" x2="640.5" y2="316" stroke="rgba(255,255,255,0.2)" stroke-width="1" stroke-dasharray="1 1"/><line x1="640.5" y1="13" x2="640.5" y2="15" stroke="rgba(255,255,255,0.2)" stroke-width="1"/><line x1="640.5" y1="316" x2="640.5" y2="318" stroke="rgba(255,255,255,0.2)" stroke-width="1"/><line x1="663.5" y1="15" x2="663.5" y2="316" stroke="rgba(255,255,255,0.2)" stroke-width="1" stroke-dasharray="1 1"/><line x1="663.5" y1="13" x2="663.5" y2="15" stroke="rgba(255,255,255,0.2)" stroke-width="1"/><line x1="663.5" y1="316" x2="663.5" y2="318" stroke="rgba(255,255,255,0.2)" stroke-width="1"/><line x1="685.5" y1="15" x2="685.5" y2="316" stroke="rgba(255,255,255,0.2)" stroke-width="1" stroke-dasharray="1 1"/><line x1="685.5" y1="13" x2="685.5" y2="15" stroke="rgba(255,255,255,0.2)" stroke-width="1"/><line x1="685.5" y1="316" x2="685.5" y2="318" stroke="rgba(255,255,255,0.2)" stroke-width="1"/><line x1="707.5" y1="15" x2="707.5" y2="316" stroke="rgba(255,255,255,0.2)" stroke-width="1" stroke-dasharray="1 1"/><line x1="707.5" y1="13" x2="707.5" y2="15" stroke="rgba(255,255,255,0.2)" stroke-width="1"/><line x1="707.5" y1="316" x2="707.5" y2="318" stroke="rgba(255,255,255,0.2)" stroke-width="1"/><line x1="730.5" y1="15" x2="730.5" y2="316" stroke="rgba(255,255,255,0.2)" stroke-width="1" stroke-dasharray="1 1"/><line x1="730.5" y1="13" x2="730.5" y2="15" stroke="rgba(255,255,255,0.2)" stroke-width="1"/><line x1="730.5" y1="316" x2="730.5" y2="318" stroke="rgba(255,255,255,0.2)" stroke-width="1"/><line x1="752.5" y1="15" x2="752.5" y2="316" stroke="rgba(255,255,255,0.2)" stroke-width="1" stroke-dasharray="1 1"/><line x1="752.5" y1="13" x2="752.5" y2="15" stroke="rgba(255,255,255,0.2)" stroke-width="1"/><line x1="752.5" y1="316" x2="752.5" y2="318" stroke="rgba(255,255,255,0.2)" stroke-width="1"/><line x1="775.5" y1="15" x2="775.5" y2="316" stroke="rgba(255,80,80,0.42)" stroke-width="1" stroke-dasharray="1 1"/><line x1="775.5" y1="13" x2="775.5" y2="15" stroke="rgba(255,80,80,0.42)" stroke-width="1"/><line x1="775.5" y1="316" x2="775.5" y2="318" stroke="rgba(255,80,80,0.42)" stroke-width="1"/><line x1="797.5" y1="15" x2="797.5" y2="316" stroke="rgba(255,255,255,0.2)" stroke-width="1" stroke-dasharray="1 1"/><line x1="797.5" y1="13" x2="797.5" y2="15" stroke="rgba(255,255,255,0.2)" stroke-width="1"/><line x1="797.5" y1="316" x2="797.5" y2="318" stroke="rgba(255,255,255,0.2)" stroke-width="1"/>
</g>
<g shape-rendering="crispEdges">
<line x1="124.5" y1="13" x2="124.5" y2="320" stroke="#000" stroke-opacity="0.25" stroke-width="1"/>
<line x1="121" y1="315.5" x2="811" y2="315.5" stroke="#000" stroke-opacity="0.3" stroke-width="1"/>
</g>
<polygon points="122,13 125,8 128,13" fill="#00ff00"/>
<polygon points="811,312 816,315 811,318" fill="#00ff00"/>
<defs><filter id="crisp" filterUnits="userSpaceOnUse" x="0" y="0" width="824" height="430"><feComponentTransfer><feFuncA type="discrete" tableValues="0 1"/></feComponentTransfer></filter></defs>
<rect x="31.5" y="365.5" width="16" height="16" fill="#ff8080" stroke="#000" stroke-width="1"/>
<rect x="31.5" y="393.5" width="16" height="16" fill="#ffff80" stroke="#000" stroke-width="1"/>
<g filter="url(#crisp)">
<text x="108" y="322.9" text-anchor="end">0</text><text x="108" y="275.6" text-anchor="end">5000</text><text x="108" y="228.3" text-anchor="end">10000</text><text x="108" y="180.9" text-anchor="end">15000</text><text x="108" y="133.6" text-anchor="end">20000</text><text x="108" y="86.3" text-anchor="end">25000</text><text x="108" y="39.0" text-anchor="end">30000</text>
<text x="180" y="338.8">Week 46</text><text x="338" y="338.8">Week 47</text><text x="495" y="338.8">Week 48</text><text x="652" y="338.8">Week 49</text>
<text transform="translate(18.1,275.7) rotate(-90)">onlinestream.live</text>
<text x="58" y="380.7">legtöbb</text>
<text x="58" y="408.2">átlag</text>
<text x="206.5" y="408.2">most: 23436</text>
<text x="434" y="408.2">átlag: 9126</text>
<text x="662" y="408.2">max: 24497</text>
</g>
</svg>
</body></html>
